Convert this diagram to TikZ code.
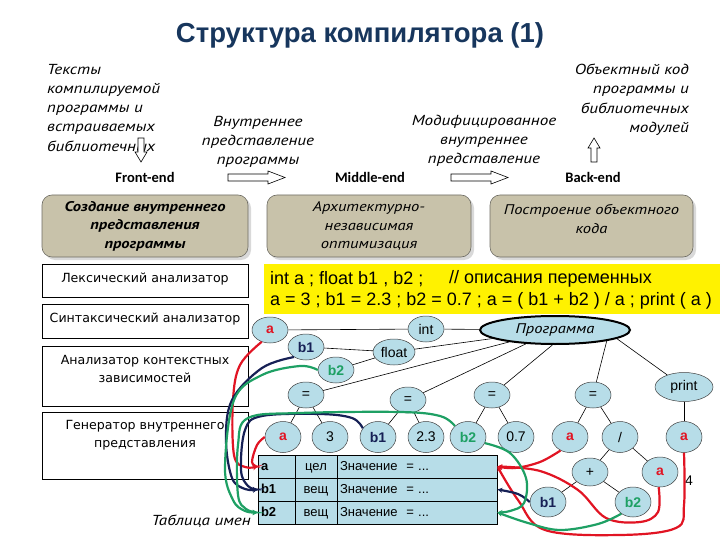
\documentclass[tikz,border=0pt]{standalone}
\usepackage{fontspec}
\setmainfont{Liberation Sans}
\newfontfamily\itf{PT Sans}[FakeStretch=1.18]
\newfontfamily\dvs{DejaVu Sans}
\newfontfamily\calfont{Carlito}
\usetikzlibrary{shapes.geometric,arrows.meta}
\definecolor{titlec}{RGB}{23,54,93}
\definecolor{tanc}{RGB}{200,194,170}
\definecolor{tanb}{RGB}{110,108,100}
\definecolor{lb}{RGB}{183,221,232}
\definecolor{rc}{RGB}{225,20,35}
\definecolor{nc}{RGB}{22,32,85}
\definecolor{gc}{RGB}{30,160,100}
\begin{document}
\begin{tikzpicture}[x=1pt,y=-1pt,
  itx/.style={font=\itf\itshape\fontsize{14.5}{19.2}\selectfont, inner sep=0},
  phase/.style={font=\calfont\bfseries\fontsize{14.5}{16}\selectfont, inner sep=0},
  tanbox/.style={draw=tanb, fill=tanc, rounded corners=10pt, minimum height=62, inner sep=0, line width=0.6},
  wbox/.style={draw=black, fill=white, minimum width=206, inner sep=0, line width=0.8},
  wtx/.style={font=\dvs\fontsize{12.6}{18.5}\selectfont, inner sep=0, align=center},
  tn/.style={ellipse, draw=black!75, fill=lb, inner sep=0, minimum width=36, minimum height=26, line width=0.5, font=\fontsize{14}{14}\selectfont},
  tnb/.style={tn, minimum height=31},
  ed/.style={draw=black, line width=0.6},
  cell/.style={draw=black, fill=lb, minimum height=23, inner sep=3pt, text height=10, text depth=3, font=\fontsize{13}{13}\selectfont, line width=0.8},
  hol/.style={draw=black, fill=white, line width=0.6},
  rl/.style={draw=rc, line width=2.2, -{Stealth[length=5pt,width=5pt]}},
  nl/.style={draw=nc, line width=2.2, -{Stealth[length=5pt,width=5pt]}},
  gl/.style={draw=gc, line width=2.2, -{Stealth[length=5pt,width=5pt]}}
]
\useasboundingbox (0,0) rectangle (720,540);

% title
\node[font=\bfseries\fontsize{27.5}{28}\selectfont, text=titlec] (title) at (360,35) {Структура компилятора (1)};

% top texts
\node[itx, anchor=north west, align=left] (src) at (47,64) {Тексты\\компилируемой\\программы и\\встраиваемых\\библиотечных};
\node[itx, anchor=north east, align=right] (obj) at (689,64) {Объектный код\\программы и\\библиотечных\\модулей};
\node[itx, align=center] (ir) at (258,142) {Внутреннее\\представление\\программы};
\node[itx, align=center] (mir) at (484,141) {Модифицированное\\внутреннее\\представление};

\node[phase] (fe) at (145,177) {Front-end};
\node[phase] (me) at (370,177) {Middle-end};
\node[phase] (be) at (593,177) {Back-end};

% hollow arrows
\draw[hol] (228,174) -- (268,174) -- (268,171) -- (285,177.5) -- (268,184) -- (268,181) -- (228,181) -- cycle;
\draw[hol] (451,174) -- (491,174) -- (491,171) -- (508,177.5) -- (491,184) -- (491,181) -- (451,181) -- cycle;
\draw[hol] (138,138) -- (144,138) -- (144,152) -- (147,152) -- (141,162) -- (135,152) -- (138,152) -- cycle;
\draw[hol] (591,162) -- (597,162) -- (597,148) -- (600,148) -- (594,138) -- (588,148) -- (591,148) -- cycle;

% tan boxes
\fill[gray!30, rounded corners=10pt] (45,198) rectangle (251,260);
\fill[gray!30, rounded corners=10pt] (270,198) rectangle (474,260);
\fill[gray!30, rounded corners=10pt] (493,198) rectangle (696,260);
\node[tanbox, minimum width=206, align=center, font=\itf\bfseries\itshape\fontsize{14}{18.5}\selectfont] (b1box) at (145,226) {Создание внутреннего\\представления\\программы};
\node[tanbox, minimum width=204, align=center, font=\itf\itshape\fontsize{14}{18.5}\selectfont] (b2box) at (369,226) {Архитектурно-\\независимая\\оптимизация};
\node[tanbox, minimum width=203] (b3box) at (591.5,226) {};
\node[align=center, font=\itf\itshape\fontsize{14}{18.5}\selectfont, inner sep=0] (b3t) at (591.5,219) {Построение объектного\\кода};

% left boxes
\node[wbox, minimum height=33] (lex) at (145,280.5) {};
\node[wtx] (lext) at (145,279) {Лексический анализатор};
\node[wbox, minimum height=34] (syn) at (145,321) {};
\node[wtx] (synt) at (145,319) {Синтаксический анализатор};
\node[wbox, minimum height=60] (ctx) at (145,376) {};
\node[wtx] (ctxt) at (145,369) {Анализатор контекстных\\зависимостей};
\node[wbox, minimum height=67] (gen) at (145,445.5) {};
\node[wtx] (gent) at (145,435) {Генератор внутреннего\\представления};

% yellow code
\fill[yellow] (264,264) rectangle (720,314);
\node[anchor=west, inner sep=0, font=\fontsize{18}{18}\selectfont] (code1) at (270,279) {int a ; float b1 , b2 ;};
\node[anchor=west, inner sep=0, font=\fontsize{18}{18}\selectfont] (code1b) at (449,279) {// описания переменных};
\node[anchor=west, inner sep=0, font=\fontsize{18}{18}\selectfont] (code2) at (270,301) {a = 3 ; b1 = 2.3 ; b2 = 0.7 ; a = ( b1 + b2 ) / a ; print ( a )};

% table
\node[cell, minimum width=37, text width=31, align=left, font=\bfseries\fontsize{13}{13}\selectfont] (ta) at (276.5,466.5) {a};
\node[cell, minimum width=42] (tya) at (316,466.5) {цел};
\node[cell, minimum width=160, text width=154, align=left] (va) at (417,466.5) {Значение \ = ...};
\node[cell, minimum width=37, text width=31, align=left, font=\bfseries\fontsize{13}{13}\selectfont] (tb1) at (276.5,489.5) {b1};
\node[cell, minimum width=42] (tyb1) at (316,489.5) {вещ};
\node[cell, minimum width=160, text width=154, align=left] (vb1) at (417,489.5) {Значение \ = ...};
\node[cell, minimum width=37, text width=31, align=left, font=\bfseries\fontsize{13}{13}\selectfont] (tb2) at (276.5,512.5) {b2};
\node[cell, minimum width=42] (tyb2) at (316,512.5) {вещ};
\node[cell, minimum width=160, text width=154, align=left] (vb2) at (417,512.5) {Значение \ = ...};
\node[itx, anchor=east] (tabl) at (251,521) {Таблица имен};

% tree nodes
\node[tn] (a1) at (270,330) {\textcolor{rc}{\bfseries a}};
\node[tn] (int) at (426,329) {int};
\node[tn, minimum width=150, minimum height=28, line width=2, draw=black] (prog) at (555,330) {\itf\itshape Программа};
\node[tn] (b1a) at (306,347) {\textcolor{nc}{\bfseries b1}};
\node[tn, minimum width=42] (float) at (394,352) {float};
\node[tn] (b2a) at (336,370) {\textcolor{gc}{\bfseries b2}};
\node[tn] (e1) at (306,395) {=};
\node[tn] (e2) at (408,400) {=};
\node[tn] (e3) at (492,395) {=};
\node[tn] (e4) at (593,395) {=};
\node[tn, minimum width=58, minimum height=29] (print) at (684,387) {print};
\node[tnb] (a2) at (283,437) {\textcolor{rc}{\bfseries a}};
\node[tnb] (n3) at (330,437) {3};
\node[tnb] (b1b) at (378,437) {\textcolor{nc}{\bfseries b1}};
\node[tnb] (n23) at (426,437) {2.3};
\node[tnb] (b2b) at (468,437) {\textcolor{gc}{\bfseries b2}};
\node[tnb] (n07) at (516,437) {0.7};
\node[tnb] (a3) at (570,437) {\textcolor{rc}{\bfseries a}};
\node[tnb] (div) at (620,437) {/};
\node[tnb] (a5) at (684,437) {\textcolor{rc}{\bfseries a}};
\node[tn, minimum height=28] (plus) at (590,472) {+};
\node[tn, minimum height=30] (a4) at (660,472) {\textcolor{rc}{\bfseries a}};
\node[tn, minimum height=30] (b1c) at (548,502) {\textcolor{nc}{\bfseries b1}};
\node[tn, minimum height=30] (b2c) at (633,502) {\textcolor{gc}{\bfseries b2}};

\node[inner sep=0, font=\fontsize{14}{14}\selectfont] (pg) at (689,481) {4};

% tree edges
\draw[ed] (a1) -- (int);
\draw[ed] (int) -- (prog);
\draw[ed] (b1a) -- (float);
\draw[ed] (b2a) -- (float);
\draw[ed] (float) -- (prog);
\draw[ed] (e1) -- (prog);
\draw[ed] (e2) -- (prog);
\draw[ed] (e3) -- (prog.-100);
\draw[ed] (e4) -- (prog.-12);
\draw[ed] (print) -- (prog.-8);
\draw[ed] (e1) -- (a2);
\draw[ed] (e1) -- (n3);
\draw[ed] (e2) -- (b1b);
\draw[ed] (e2) -- (n23);
\draw[ed] (e3) -- (b2b);
\draw[ed] (e3) -- (n07);
\draw[ed] (e4) -- (a3);
\draw[ed] (e4) -- (div);
\draw[ed] (print) -- (a5);
\draw[ed] (div) -- (plus);
\draw[ed] (div) -- (a4);
\draw[ed] (plus) -- (b1c);
\draw[ed] (plus) -- (b2c);

% coloured links to the name table
\draw[rl] plot[smooth, tension=0.6] coordinates {(a1.235) (240,365) (233,400) (234,455) (245,467) (ta.west)};
\draw[rl] plot[smooth, tension=0.6] coordinates {(a2.west) (257,445) (252,462) (ta.west)};
\draw[rl] plot[smooth, tension=0.6] coordinates {(a3.235) (540,462) (515,468) (va.east)};
\draw[rl] plot[smooth, tension=0.6] coordinates {(a4.-95) (658,512) (640,522) (606,518) (578,490) (540,471) (va.east)};
\draw[rl] plot[smooth, tension=0.6] coordinates {(a5.south) (684,505) (676,528) (620,535) (545,530) (518,500) (va.east)};

\draw[nl] plot[smooth, tension=0.6] coordinates {(b1a.220) (262,368) (232,400) (226,440) (232,478) (245,489) (tb1.west)};
\draw[nl] plot[smooth, tension=0.6] coordinates {(b1b.150) (352,418) (320,414) (262,416) (245,430) (241,470) (248,486) (tb1.west)};
\draw[nl] plot[smooth, tension=0.6] coordinates {(b1c.west) (518,494) (vb1.east)};

\draw[gl] plot[smooth, tension=0.6] coordinates {(b2a.west) (300,366) (262,375) (234,400) (225,468) (233,500) (245,511) (tb2.west)};
\draw[gl] plot[smooth, tension=0.6] coordinates {(b2b.140) (440,416) (400,412) (300,413) (248,418) (238,445) (238,495) (246,509) (tb2.west)};
\draw[gl] plot[smooth, tension=0.6] coordinates {(b2b.-20) (510,453) (526,478) (524,503) (510,511) (vb2.east)};
\draw[gl] plot[smooth, tension=0.6] coordinates {(b2c.225) (598,524) (560,530) (528,523) (vb2.east)};
\end{tikzpicture}
\end{document}
